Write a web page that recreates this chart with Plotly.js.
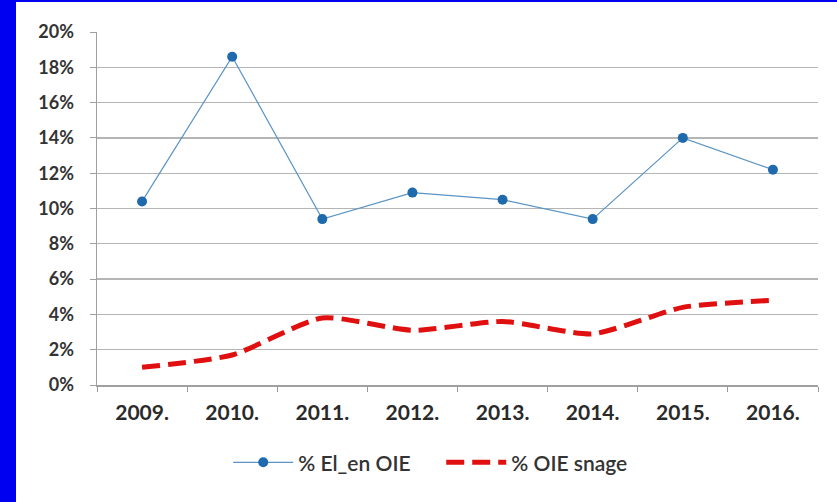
<!DOCTYPE html>
<html>
<head>
<meta charset="utf-8">
<script src="https://cdn.plot.ly/plotly-3.0.1.min.js"></script>
<style>
html,body{margin:0;padding:0;background:#0000f0;width:837px;height:502px;overflow:hidden;}
#chart{position:absolute;left:16px;top:2px;width:821px;height:500px;background:#fff;}
</style>
</head>
<body>
<div id="chart"></div>
<script>
const years = ["2009.", "2010.", "2011.", "2012.", "2013.", "2014.", "2015.", "2016."];
const elEnOIE = [0.104, 0.186, 0.094, 0.109, 0.105, 0.094, 0.140, 0.122];
const oieSnage = [0.010, 0.017, 0.038, 0.031, 0.036, 0.029, 0.044, 0.048];
const seriesNames = ["% El_en OIE", "% OIE snage"];
const yTicks = [0, 0.02, 0.04, 0.06, 0.08, 0.10, 0.12, 0.14, 0.16, 0.18, 0.20];
const yTickText = ["0%", "2%", "4%", "6%", "8%", "10%", "12%", "14%", "16%", "18%", "20%"];

const traces = [
  {
    x: years, y: elEnOIE, name: seriesNames[0], type: "scatter", mode: "lines+markers",
    line: {color: "#5b94c4", width: 1.2},
    marker: {color: "#1f6aad", size: 10}
  },
  {
    x: years, y: oieSnage, name: seriesNames[1], type: "scatter", mode: "lines",
    line: {color: "#e01010", width: 5, dash: "18px,8px", shape: "spline", smoothing: 0.6}
  }
];

const layout = {
  width: 821, height: 500,
  margin: {l: 81, r: 19, t: 30, b: 117},
  paper_bgcolor: "#ffffff", plot_bgcolor: "#ffffff",
  showlegend: true,
  legend: {orientation: "h", x: 0.182, xanchor: "left", y: -0.22, yanchor: "middle",
    font: {family: "Lato, 'Open Sans', sans-serif", size: 21, color: "#333333", weight: 600},
    itemwidth: 60, entrywidth: 138, entrywidthmode: "pixels", traceorder: "normal"},
  xaxis: {
    type: "category", tickson: "boundaries", ticks: "outside", ticklen: 5, tickcolor: "#999999",
    showline: true, linecolor: "#a0a0a0", linewidth: 1.5, showgrid: false,
    ticklabelstandoff: 8,
    tickfont: {family: "Lato, 'Open Sans', sans-serif", size: 21, color: "#2a2a2a", weight: "bold"},
    range: [-0.5, 7.5], fixedrange: true
  },
  yaxis: {
    range: [0, 0.2], tickvals: yTicks, ticktext: yTickText,
    ticks: "outside", ticklen: 6, tickcolor: "#a0a0a0",
    showline: true, linecolor: "#a0a0a0", linewidth: 1.5,
    showgrid: true, gridcolor: "#b5b5b5", gridwidth: 1.3, zeroline: false,
    ticklabelstandoff: 12,
    tickfont: {family: "Lato, 'Open Sans', sans-serif", size: 18, color: "#333333", weight: "bold"},
    fixedrange: true
  }
};

Plotly.newPlot("chart", traces, layout, {displayModeBar: false, staticPlot: true});
</script>
</body>
</html>
